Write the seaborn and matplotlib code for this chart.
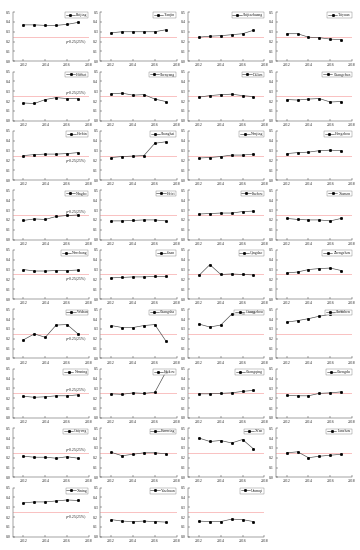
import numpy as np
import pandas as pd
import matplotlib
matplotlib.use("Agg")
import matplotlib.pyplot as plt
import seaborn as sns

years = [2012, 2013, 2014, 2015, 2016, 2017]

beijing = [0.37, 0.37, 0.365, 0.365, 0.375, 0.395]
tianjin = [0.29, 0.30, 0.30, 0.30, 0.30, 0.32]
shijiazhuang = [0.245, 0.255, 0.26, 0.27, 0.28, 0.315]
taiyuan = [0.28, 0.28, 0.245, 0.24, 0.225, 0.22]
hohhot = [0.18, 0.175, 0.215, 0.235, 0.225, 0.225]
shenyang = [0.275, 0.28, 0.26, 0.265, 0.22, 0.195]
dalian = [0.24, 0.255, 0.265, 0.27, 0.255, 0.245]
changchun = [0.215, 0.21, 0.22, 0.225, 0.19, 0.195]
harbin = [0.25, 0.26, 0.265, 0.265, 0.27, 0.28]
shanghai = [0.23, 0.24, 0.245, 0.25, 0.375, 0.39]
nanjing = [0.225, 0.23, 0.24, 0.255, 0.255, 0.265]
hangzhou = [0.27, 0.28, 0.285, 0.30, 0.305, 0.30]
ningbo = [0.195, 0.21, 0.205, 0.235, 0.245, 0.25]
hefei = [0.19, 0.19, 0.195, 0.20, 0.20, 0.19]
fuzhou = [0.26, 0.265, 0.27, 0.27, 0.285, 0.29]
xiamen = [0.215, 0.205, 0.20, 0.20, 0.19, 0.215]
nanchang = [0.30, 0.285, 0.285, 0.29, 0.29, 0.295]
jinan = [0.215, 0.22, 0.225, 0.225, 0.23, 0.23]
qingdao = [0.24, 0.35, 0.25, 0.255, 0.25, 0.245]
zhengzhou = [0.265, 0.275, 0.30, 0.31, 0.315, 0.29]
wuhan = [0.19, 0.25, 0.215, 0.34, 0.345, 0.25]
changsha = [0.335, 0.315, 0.315, 0.335, 0.345, 0.18]
guangzhou = [0.35, 0.32, 0.34, 0.45, 0.465, 0.47]
shenzhen = [0.37, 0.385, 0.405, 0.43, 0.45, 0.48]
nanning = [0.22, 0.21, 0.215, 0.225, 0.225, 0.235]
haikou = [0.245, 0.24, 0.255, 0.25, 0.26, 0.465]
chongqing = [0.245, 0.245, 0.25, 0.255, 0.27, 0.28]
chengdu = [0.23, 0.225, 0.225, 0.25, 0.255, 0.265]
guiyang = [0.215, 0.205, 0.205, 0.195, 0.21, 0.195]
kunming = [0.255, 0.22, 0.235, 0.25, 0.25, 0.24]
xian = [0.40, 0.365, 0.375, 0.35, 0.385, 0.29]
lanzhou = [0.25, 0.26, 0.20, 0.215, 0.225, 0.235]
xining = [0.345, 0.355, 0.355, 0.365, 0.375, 0.37]
yinchuan = [0.175, 0.16, 0.155, 0.16, 0.155, 0.15]
urumqi = [0.16, 0.155, 0.155, 0.18, 0.175, 0.155]

cities = ["Beijing", "Tianjin", "Shijiazhuang", "Taiyuan", "Hohhot", "Shenyang",
          "Dalian", "Changchun", "Harbin", "Shanghai", "Nanjing", "Hangzhou",
          "Ningbo", "Hefei", "Fuzhou", "Xiamen", "Nanchang", "Jinan", "Qingdao",
          "Zhengzhou", "Wuhan", "Changsha", "Guangzhou", "Shenzhen", "Nanning",
          "Haikou", "Chongqing", "Chengdu", "Guiyang", "Kunming", "Xi'an",
          "Lanzhou", "Xining", "Yinchuan", "Urumqi"]
series = [beijing, tianjin, shijiazhuang, taiyuan, hohhot, shenyang, dalian,
          changchun, harbin, shanghai, nanjing, hangzhou, ningbo, hefei, fuzhou,
          xiamen, nanchang, jinan, qingdao, zhengzhou, wuhan, changsha, guangzhou,
          shenzhen, nanning, haikou, chongqing, chengdu, guiyang, kunming, xian,
          lanzhou, xining, yinchuan, urumqi]

threshold = 0.25
note_text = "ρ=0.25(25%)"

# long table for seaborn
rows = []
for city, vals in zip(cities, series):
    for yr, v in zip(years, vals):
        rows.append({"City": city, "Year": yr, "Value": v})
df = pd.DataFrame(rows)

sns.set_style("ticks")
plt.rcParams['font.family'] = ['Liberation Serif', 'DejaVu Sans']

fig, axes = plt.subplots(9, 4, figsize=(3.6, 5.5), dpi=100)
fig.subplots_adjust(left=0.035, right=0.978, top=0.978, bottom=0.024,
                    wspace=0.15, hspace=0.21)

# annotation heights in first column (above or below the red line)
note_y = {0: 0.20, 1: 0.28, 2: 0.195, 3: 0.28, 4: 0.20, 5: 0.20, 6: 0.28, 7: 0.28, 8: 0.20}

for i, ax in enumerate(axes.flat):
    if i >= len(cities):
        ax.axis("off")
        continue
    city = cities[i]
    sub = df[df["City"] == city]
    sns.lineplot(data=sub, x="Year", y="Value", ax=ax, color="#444444",
                 linewidth=0.45, marker="s", markersize=1.2,
                 markeredgecolor="black", markerfacecolor="black", label=city)
    ax.axhline(threshold, color="#f7a8a8", linewidth=0.5, zorder=0)
    ax.set_xlim(2011, 2018)
    ax.set_ylim(0, 0.5)
    ax.set_xticks([2012, 2014, 2016, 2018])
    ax.set_yticks([0.0, 0.1, 0.2, 0.3, 0.4, 0.5])
    ax.set_xlabel("")
    ax.set_ylabel("")
    ax.tick_params(labelsize=2.8, length=1.2, width=0.3, pad=1.5, direction="in")
    for sp in ax.spines.values():
        sp.set_linewidth(0.3)
    sns.despine(ax=ax)
    leg = ax.legend(loc="upper right", fontsize=2.8, frameon=True, fancybox=False,
                    handlelength=2.4, borderpad=0.2, handletextpad=0.3,
                    borderaxespad=0.1)
    leg.get_frame().set_linewidth(0.3)
    leg.get_frame().set_edgecolor("#555555")
    if i % 4 == 0:
        ax.text(2016.8, note_y[i // 4], note_text, fontsize=2.8, ha="center", va="center")

plt.savefig("out.png", dpi=100)
